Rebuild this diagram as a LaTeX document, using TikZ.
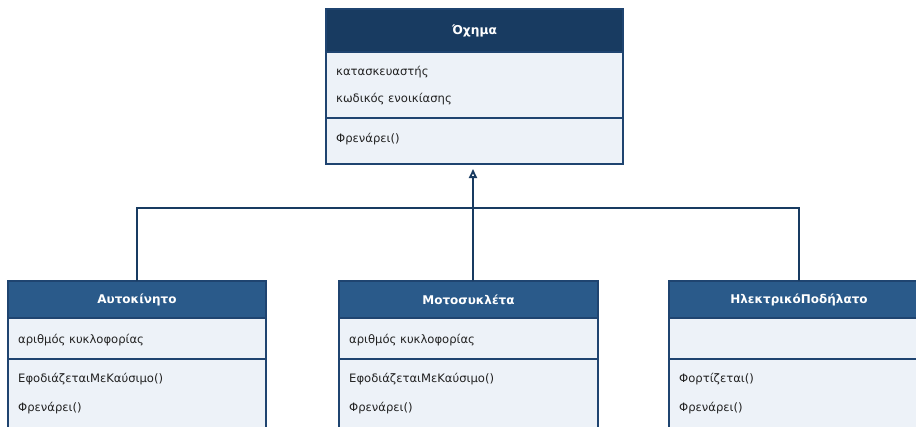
\documentclass[tikz,border=0pt]{standalone}
\usepackage{fontspec}
\setmainfont{DejaVu Sans}
\usetikzlibrary{arrows.meta}
\definecolor{topHead}{HTML}{183B61}
\definecolor{subHead}{HTML}{2A5A8A}
\definecolor{bodyFill}{HTML}{EDF2F8}
\definecolor{edgeCol}{HTML}{1F4470}
\definecolor{txtCol}{HTML}{222222}
\tikzset{
  classbox/.style={draw=edgeCol, line width=1.1pt, fill=bodyFill, anchor=north west, inner sep=0pt, outer sep=0pt},
  headbox/.style={draw=edgeCol, line width=1.1pt, anchor=north west, inner sep=0pt, outer sep=0pt, text=white, font=\fontsize{12}{14}\selectfont\bfseries},
  member/.style={anchor=west, inner sep=0pt, text=txtCol, font=\fontsize{11.6}{14}\selectfont},
  sepline/.style={draw=edgeCol, line width=1.1pt},
  inherit/.style={draw=topHead, line width=2.2pt},
}
\begin{document}
\begin{tikzpicture}[x=1pt,y=-1pt]
\useasboundingbox (0,0) rectangle (916,426);
\fill[white] (0,0) rectangle (916,426);
\clip (0,0) rectangle (916,426);
% parent class
\node[classbox, minimum width=297pt, minimum height=155pt] (vehicle) at (326,9) {};
\node[headbox, fill=topHead, minimum width=297pt, minimum height=43pt, font=\fontsize{12.2}{14}\selectfont\bfseries] (vehicleHead) at (326,9) {Όχημα};
\draw[sepline] (326,118) -- (623,118);
\node[member] (v1) at (336,72) {κατασκευαστής};
\node[member] (v2) at (336,99) {κωδικός ενοικίασης};
\node[member] (v3) at (336,139) {Φρενάρει()};
% Car
\node[classbox, minimum width=258pt, minimum height=170pt] (car) at (8,281) {};
\node[headbox, fill=subHead, minimum width=258pt, minimum height=37pt] (carHead) at (8,281) {Αυτοκίνητο};
\draw[sepline] (8,359) -- (266,359);
\node[member] (c1) at (18,340) {αριθμός κυκλοφορίας};
\node[member] (c2) at (18,379) {ΕφοδιάζεταιΜεΚαύσιμο()};
\node[member] (c3) at (18,408) {Φρενάρει()};
% Motorcycle
\node[classbox, minimum width=259pt, minimum height=170pt] (moto) at (339,281) {};
\node[headbox, fill=subHead, minimum width=259pt, minimum height=37pt] (motoHead) at (339,281) {Μοτοσυκλέτα};
\draw[sepline] (339,359) -- (598,359);
\node[member] (m1) at (349,340) {αριθμός κυκλοφορίας};
\node[member] (m2) at (349,379) {ΕφοδιάζεταιΜεΚαύσιμο()};
\node[member] (m3) at (349,408) {Φρενάρει()};
% E-bike
\node[classbox, minimum width=260pt, minimum height=170pt] (ebike) at (669,281) {};
\node[headbox, fill=subHead, minimum width=260pt, minimum height=37pt] (ebikeHead) at (669,281) {ΗλεκτρικόΠοδήλατο};
\draw[sepline] (669,359) -- (929,359);
\node[member] (e1) at (679,379) {Φορτίζεται()};
\node[member] (e2) at (679,408) {Φρενάρει()};
% connectors
\coordinate (bus) at (473,208);
\coordinate (vbot) at (473,164);
\draw[inherit] (carHead.north) |- (bus);
\draw[inherit] (ebikeHead.north) |- (bus);
\draw[inherit, -{Triangle[open, length=9pt, width=8pt, line width=1.8pt]}, shorten >=5pt] (vbot |- motoHead.north) -- (vbot);
\end{tikzpicture}
\end{document}
